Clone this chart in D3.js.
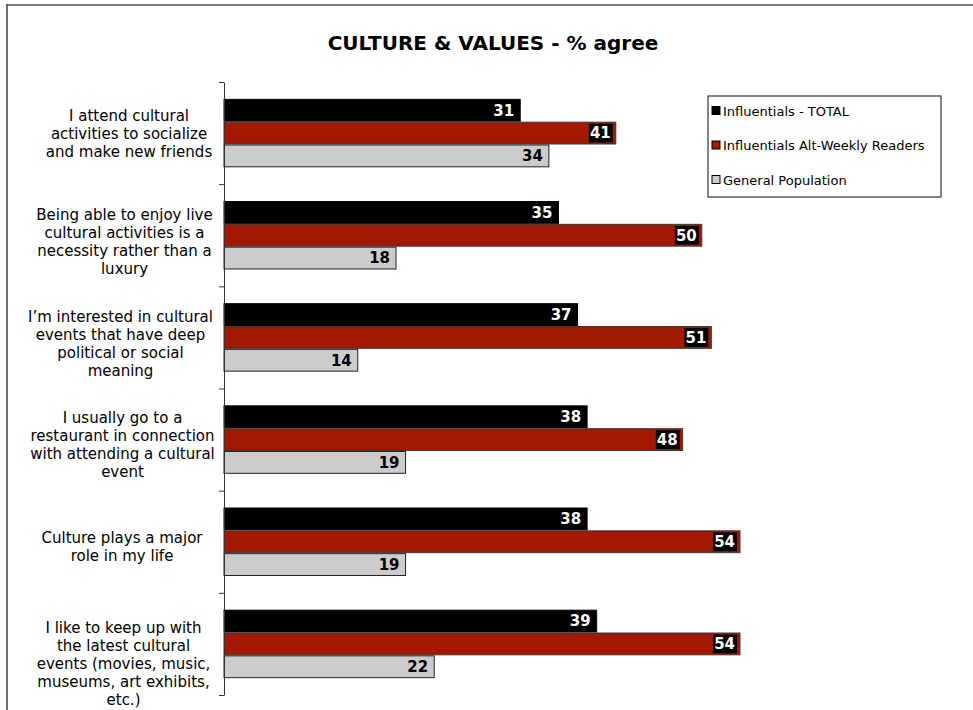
<!DOCTYPE html>
<html>
<head>
<meta charset="utf-8">
<script src="https://cdn.jsdelivr.net/npm/d3@7"></script>
<style>
  html, body { margin: 0; padding: 0; background: #fff; }
  svg { display: block; font-family: "DejaVu Sans", Verdana, sans-serif; }
</style>
</head>
<body>
<svg id="chart" width="973" height="710"></svg>
<script>
// Survey statements (each entry is the wrapped lines of one statement)
const categories = [
  ["I attend cultural", "activities to socialize", "and make new friends"],
  ["Being able to enjoy live", "cultural activities is a", "necessity rather than a", "luxury"],
  ["I\u2019m interested in cultural", "events that have deep", "political or social", "meaning"],
  ["I usually go to a", "restaurant in connection", "with attending a cultural", "event"],
  ["Culture plays a major", "role in my life"],
  ["I like to keep up with", "the latest cultural", "events (movies, music,", "museums, art exhibits,", "etc.)"]
];

const seriesNames = ["Influentials - TOTAL", "Influentials Alt-Weekly Readers", "General Population"];

// % agree per statement, in the order above
const influentialsTotal = [31, 35, 37, 38, 38, 39];
const altWeeklyReaders  = [41, 50, 51, 48, 54, 54];
const generalPopulation = [34, 18, 14, 19, 19, 22];

const titleText = "CULTURE & VALUES - % agree";

const seriesValues = [influentialsTotal, altWeeklyReaders, generalPopulation];
const fills   = ["#000000", "#A31800", "#CCCCCC"];
const strokes = ["#000000", "#3a3a3a", "#222222"];

// placement of each statement's text block: centre x and vertical nudge within its row
const labelCenterX = [129, 124.5, 120.5, 122.5, 122, 123.5];
const labelNudge = [1, 6, 6, 5, 5, 20];

const svg = d3.select("#chart");

// outer frame (runs off the right and bottom edges)
svg.append("line").attr("x1", 7).attr("x2", 973).attr("y1", 5).attr("y2", 5)
  .attr("stroke", "#808080").attr("stroke-width", 2);
svg.append("line").attr("x1", 7).attr("x2", 7).attr("y1", 4).attr("y2", 710)
  .attr("stroke", "#404040").attr("stroke-width", 1.5);

// title
svg.append("text").attr("x", 493).attr("y", 50)
  .attr("text-anchor", "middle").attr("font-weight", "bold").attr("font-size", 20)
  .text(titleText);

const plotTop = 82, plotBottom = 695, axisX = 224;
const idx = d3.range(categories.length);

const x = d3.scaleLinear().domain([0, 54]).range([axisX, 740]);
const y0 = d3.scaleBand().domain(idx).range([plotTop, plotBottom])
  .paddingInner(0.33).paddingOuter(0.165);
const y1 = d3.scaleBand().domain(d3.range(seriesNames.length)).range([0, y0.bandwidth()]);

// bars
const groups = svg.append("g").selectAll("g").data(idx).join("g")
  .attr("transform", i => `translate(0,${y0(i)})`);

groups.each(function(ci) {
  const g = d3.select(this);
  seriesValues.forEach((vals, si) => {
    const v = vals[ci];
    const by = y1(si), bh = y1.bandwidth();
    g.append("rect")
      .attr("x", x(0)).attr("y", by + 0.5)
      .attr("width", x(v) - x(0)).attr("height", bh - 1)
      .attr("fill", fills[si]).attr("stroke", strokes[si]).attr("stroke-width", 1);

    const t = g.append("text")
      .attr("x", x(v) - (si === 1 ? 5 : 6)).attr("y", by + bh / 2)
      .attr("dy", "0.36em").attr("text-anchor", "end")
      .attr("font-weight", "bold").attr("font-size", 15)
      .attr("fill", si === 2 ? "#000" : "#fff")
      .text(v);
    if (si === 1) {
      const bb = t.node().getBBox();
      g.insert("rect", function() { return t.node(); })
        .attr("x", bb.x - 1).attr("y", by + 2)
        .attr("width", bb.width + 3).attr("height", bh - 4)
        .attr("fill", "#000");
    }
  });
});

// category axis with ticks at the band boundaries
const yEdge = d3.scaleLinear().domain([0, categories.length]).range([plotTop, plotBottom]);
const axis = svg.append("g").attr("transform", `translate(${axisX},0)`)
  .call(d3.axisLeft(yEdge).tickValues(d3.range(categories.length + 1))
    .tickFormat("").tickSize(5).tickSizeOuter(0));
axis.select(".domain").attr("stroke", "#333");
axis.selectAll(".tick line").attr("stroke", "#333");

// category labels
const lineH = 18;
const labels = svg.append("g").selectAll("text").data(idx).join("text")
  .attr("text-anchor", "middle").attr("font-size", 15).attr("fill", "#000")
  .attr("transform", i => {
    const n = categories[i].length;
    const cy = y0(i) + y0.bandwidth() / 2 + labelNudge[i];
    return `translate(${labelCenterX[i]},${cy - (n - 1) * lineH / 2})`;
  });
labels.each(function(i) {
  d3.select(this).selectAll("tspan").data(categories[i]).join("tspan")
    .attr("x", 0).attr("y", (d, k) => k * lineH).attr("dy", "0.35em").text(d => d);
});

// legend
const lg = svg.append("g").attr("transform", "translate(708,96)");
lg.append("rect").attr("width", 233).attr("height", 101)
  .attr("fill", "#fff").attr("stroke", "#333").attr("stroke-width", 1.2);
const items = lg.selectAll("g").data(seriesNames).join("g")
  .attr("transform", (d, i) => `translate(4,${15 + i * 34.5})`);
items.append("rect").attr("x", 0).attr("y", -4.5).attr("width", 8).attr("height", 8)
  .attr("fill", (d, i) => fills[i]).attr("stroke", "#000").attr("stroke-width", 1);
items.append("text").attr("x", 11).attr("dy", "0.35em")
  .attr("font-size", 13).text(d => d);
</script>
</body>
</html>
